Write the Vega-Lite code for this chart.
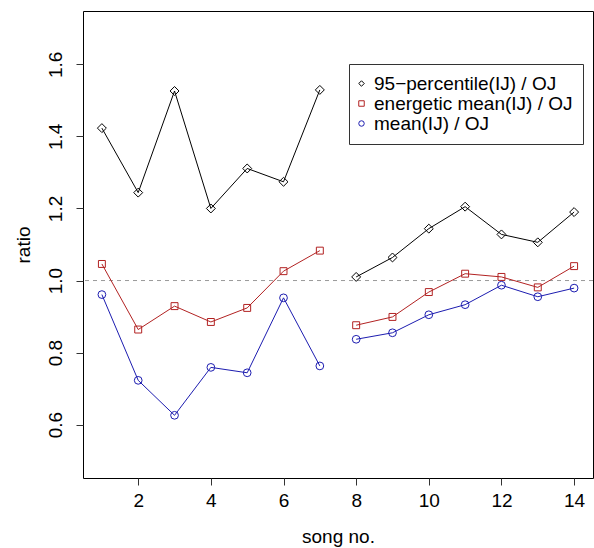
{
  "$schema": "https://vega.github.io/schema/vega-lite/v6.json",
  "autosize": "none",
  "width": 510,
  "height": 467,
  "padding": {"left": 83, "top": 11, "right": 1, "bottom": 70},
  "background": "white",
  "config": {
    "font": "Liberation Sans",
    "view": {"stroke": "black", "strokeWidth": 1},
    "axis": {"grid": false, "domain": false, "tickColor": "#333", "tickSize": 7, "labelFont": "Liberation Sans", "labelFontSize": 19, "labelColor": "black", "titleFont": "Liberation Sans", "titleFontSize": 19, "titleFontWeight": "normal", "titleColor": "black"},
    "legend": {"labelFontSize": 19, "labelFont": "Liberation Sans", "labelColor": "black", "symbolSize": 30, "symbolStrokeWidth": 1, "rowPadding": 0, "labelOffset": 3, "symbolOffset": -7, "padding": 10, "strokeColor": "#333", "fillColor": "white", "labelLimit": 400}
  },
  "datasets": {
    "pts": [
      {"song": 1, "series": "95\u2212percentile(IJ) / OJ", "seg": 1, "value": 1.423},
      {"song": 2, "series": "95\u2212percentile(IJ) / OJ", "seg": 1, "value": 1.244},
      {"song": 3, "series": "95\u2212percentile(IJ) / OJ", "seg": 1, "value": 1.526},
      {"song": 4, "series": "95\u2212percentile(IJ) / OJ", "seg": 1, "value": 1.200},
      {"song": 5, "series": "95\u2212percentile(IJ) / OJ", "seg": 1, "value": 1.311},
      {"song": 6, "series": "95\u2212percentile(IJ) / OJ", "seg": 1, "value": 1.274},
      {"song": 7, "series": "95\u2212percentile(IJ) / OJ", "seg": 1, "value": 1.529},
      {"song": 8, "series": "95\u2212percentile(IJ) / OJ", "seg": 2, "value": 1.010},
      {"song": 9, "series": "95\u2212percentile(IJ) / OJ", "seg": 2, "value": 1.064},
      {"song": 10, "series": "95\u2212percentile(IJ) / OJ", "seg": 2, "value": 1.144},
      {"song": 11, "series": "95\u2212percentile(IJ) / OJ", "seg": 2, "value": 1.205},
      {"song": 12, "series": "95\u2212percentile(IJ) / OJ", "seg": 2, "value": 1.128},
      {"song": 13, "series": "95\u2212percentile(IJ) / OJ", "seg": 2, "value": 1.106},
      {"song": 14, "series": "95\u2212percentile(IJ) / OJ", "seg": 2, "value": 1.190},
      {"song": 1, "series": "energetic mean(IJ) / OJ", "seg": 1, "value": 1.046},
      {"song": 2, "series": "energetic mean(IJ) / OJ", "seg": 1, "value": 0.864},
      {"song": 3, "series": "energetic mean(IJ) / OJ", "seg": 1, "value": 0.929},
      {"song": 4, "series": "energetic mean(IJ) / OJ", "seg": 1, "value": 0.885},
      {"song": 5, "series": "energetic mean(IJ) / OJ", "seg": 1, "value": 0.924},
      {"song": 6, "series": "energetic mean(IJ) / OJ", "seg": 1, "value": 1.026},
      {"song": 7, "series": "energetic mean(IJ) / OJ", "seg": 1, "value": 1.083},
      {"song": 8, "series": "energetic mean(IJ) / OJ", "seg": 2, "value": 0.876},
      {"song": 9, "series": "energetic mean(IJ) / OJ", "seg": 2, "value": 0.899},
      {"song": 10, "series": "energetic mean(IJ) / OJ", "seg": 2, "value": 0.968},
      {"song": 11, "series": "energetic mean(IJ) / OJ", "seg": 2, "value": 1.019},
      {"song": 12, "series": "energetic mean(IJ) / OJ", "seg": 2, "value": 1.010},
      {"song": 13, "series": "energetic mean(IJ) / OJ", "seg": 2, "value": 0.981},
      {"song": 14, "series": "energetic mean(IJ) / OJ", "seg": 2, "value": 1.040},
      {"song": 1, "series": "mean(IJ) / OJ", "seg": 1, "value": 0.961},
      {"song": 2, "series": "mean(IJ) / OJ", "seg": 1, "value": 0.723},
      {"song": 3, "series": "mean(IJ) / OJ", "seg": 1, "value": 0.626},
      {"song": 4, "series": "mean(IJ) / OJ", "seg": 1, "value": 0.759},
      {"song": 5, "series": "mean(IJ) / OJ", "seg": 1, "value": 0.744},
      {"song": 6, "series": "mean(IJ) / OJ", "seg": 1, "value": 0.952},
      {"song": 7, "series": "mean(IJ) / OJ", "seg": 1, "value": 0.763},
      {"song": 8, "series": "mean(IJ) / OJ", "seg": 2, "value": 0.837},
      {"song": 9, "series": "mean(IJ) / OJ", "seg": 2, "value": 0.855},
      {"song": 10, "series": "mean(IJ) / OJ", "seg": 2, "value": 0.905},
      {"song": 11, "series": "mean(IJ) / OJ", "seg": 2, "value": 0.933},
      {"song": 12, "series": "mean(IJ) / OJ", "seg": 2, "value": 0.987},
      {"song": 13, "series": "mean(IJ) / OJ", "seg": 2, "value": 0.955},
      {"song": 14, "series": "mean(IJ) / OJ", "seg": 2, "value": 0.979}
    ],
    "ref": [{"y": 1.0}]
  },
  "layer": [
    {
      "data": {"name": "ref"},
      "mark": {"type": "rule", "color": "#999999", "strokeDash": [4, 4], "strokeWidth": 1},
      "encoding": {"y": {"field": "y", "type": "quantitative", "scale": {"domain": [0.452, 1.748], "nice": false, "zero": false}}}
    },
    {
      "data": {"name": "pts"},
      "mark": {"type": "line", "strokeWidth": 1},
      "encoding": {
        "x": {"field": "song", "type": "quantitative", "scale": {"domain": [0.48, 14.52], "nice": false, "zero": false},
              "axis": {"values": [2, 4, 6, 8, 10, 12, 14], "format": "d", "labelPadding": 6, "title": "song no.", "titleX": 255, "titleY": 58, "titleBaseline": "middle", "titleAlign": "center"}},
        "y": {"field": "value", "type": "quantitative", "scale": {"domain": [0.452, 1.748], "nice": false, "zero": false},
              "axis": {"values": [0.6, 0.8, 1.0, 1.2, 1.4, 1.6], "format": ".1f", "labelAngle": -90, "labelAlign": "center", "labelBaseline": "bottom", "labelPadding": 11, "title": "ratio", "titleX": -60, "titleY": 233.5, "titleAngle": -90, "titleAlign": "center", "titleBaseline": "middle"}},
        "color": {"field": "series", "type": "nominal", "title": null,
                  "scale": {"domain": ["95\u2212percentile(IJ) / OJ", "energetic mean(IJ) / OJ", "mean(IJ) / OJ"], "range": ["black", "#B22222", "#1C1CB0"]},
                  "legend": {"orient": "none", "legendX": 266, "legendY": 53, "labelExpr": "datum.label + '  '"}},
        "detail": {"field": "seg"}
      }
    },
    {
      "data": {"name": "pts"},
      "transform": [{"filter": "datum.series == '95\u2212percentile(IJ) / OJ'"}],
      "mark": {"type": "point", "filled": false, "strokeWidth": 1, "opacity": 1, "size": 80},
      "encoding": {
        "x": {"field": "song", "type": "quantitative"},
        "y": {"field": "value", "type": "quantitative"},
        "color": {"field": "series", "type": "nominal", "title": null,
                  "legend": {"orient": "none", "legendX": 266, "legendY": 53, "labelExpr": "datum.label + '  '"}},
        "shape": {"field": "series", "type": "nominal", "title": null,
                  "scale": {"domain": ["95\u2212percentile(IJ) / OJ", "energetic mean(IJ) / OJ", "mean(IJ) / OJ"], "range": ["diamond", "square", "circle"]},
                  "legend": {"orient": "none", "legendX": 266, "legendY": 53, "labelExpr": "datum.label + '  '"}}
      }
    },
    {
      "data": {"name": "pts"},
      "transform": [{"filter": "datum.series == 'energetic mean(IJ) / OJ'"}],
      "mark": {"type": "point", "filled": false, "strokeWidth": 1, "opacity": 1, "size": 48},
      "encoding": {
        "x": {"field": "song", "type": "quantitative"},
        "y": {"field": "value", "type": "quantitative"},
        "color": {"field": "series", "type": "nominal", "title": null},
        "shape": {"field": "series", "type": "nominal", "title": null}
      }
    },
    {
      "data": {"name": "pts"},
      "transform": [{"filter": "datum.series == 'mean(IJ) / OJ'"}],
      "mark": {"type": "point", "filled": false, "strokeWidth": 1, "opacity": 1, "size": 60},
      "encoding": {
        "x": {"field": "song", "type": "quantitative"},
        "y": {"field": "value", "type": "quantitative"},
        "color": {"field": "series", "type": "nominal", "title": null},
        "shape": {"field": "series", "type": "nominal", "title": null}
      }
    }
  ]
}
